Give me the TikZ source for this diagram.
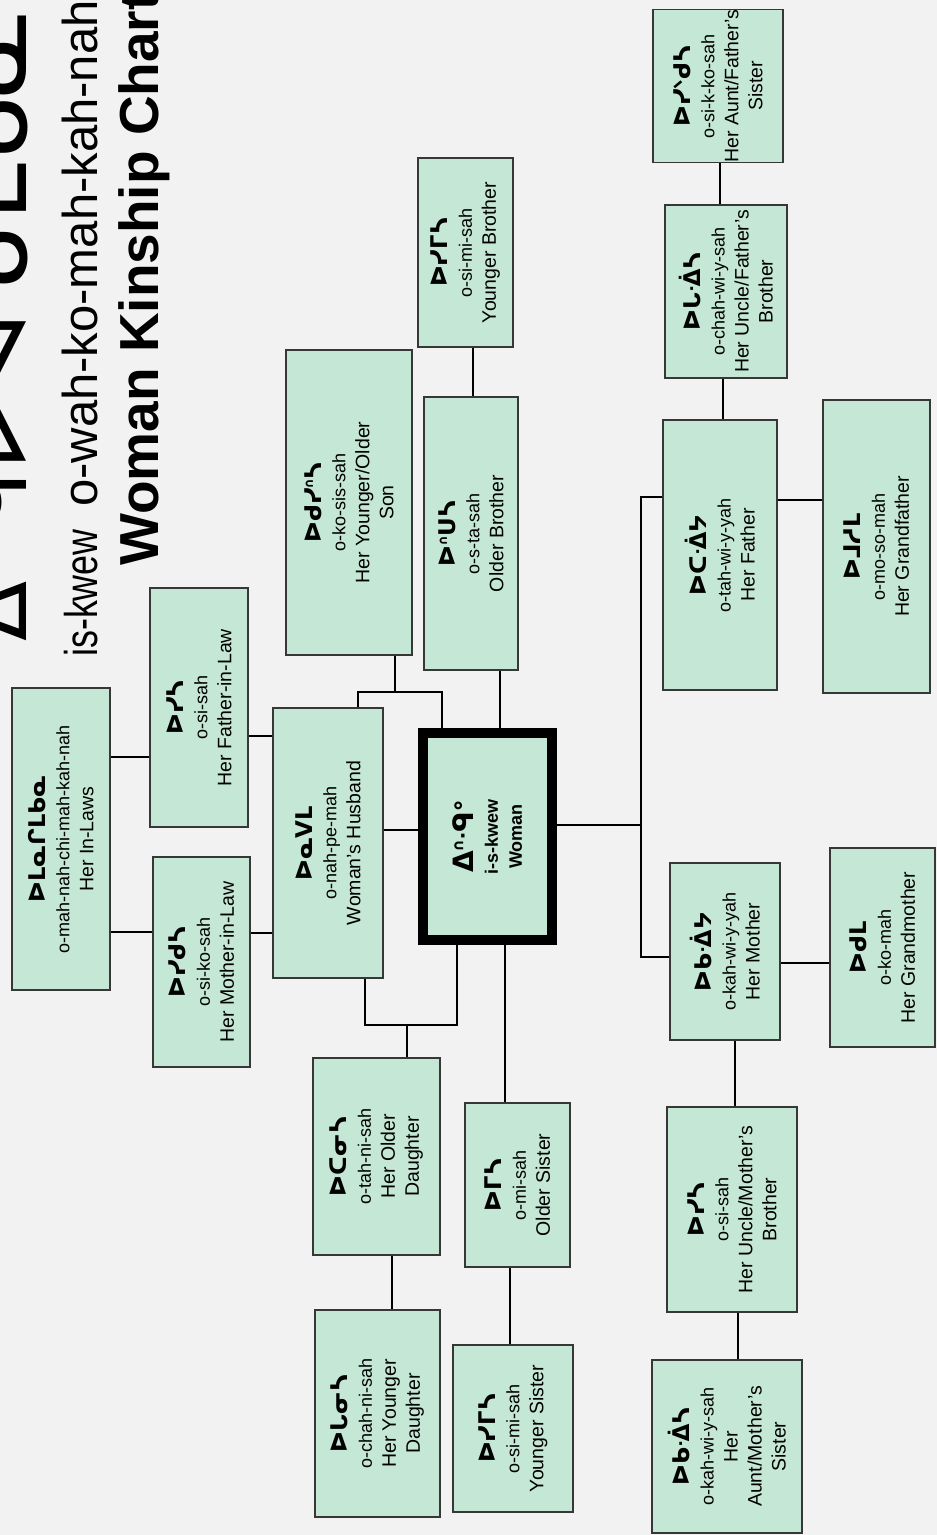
\documentclass[tikz,border=0pt]{standalone}
\usepackage{fontspec}
\setmainfont{Liberation Sans}
\newfontfamily\creefont{DejaVu Sans}
\newfontfamily\narrowfont{Liberation Sans}[FakeStretch=0.78]
\definecolor{boxfill}{RGB}{197,231,213}
\definecolor{boxline}{RGB}{55,55,55}
\definecolor{paper}{RGB}{242,242,242}
\newcommand\sylb[1]{{\creefont\bfseries\fontsize{23}{27}\selectfont #1}}
\newcommand\translit[1]{{\fontsize{18}{23}\selectfont #1}}

\begin{document}
\begin{tikzpicture}[x=1pt,y=1pt,
    kin/.style={rectangle,draw=boxline,line width=1.8pt,fill=boxfill,rotate=90,align=center,inner xsep=0pt,inner ysep=2pt,font=\fontsize{19.5}{24}\selectfont},
    ego/.style={kin,draw=black,line width=10pt,font=\bfseries\fontsize{18}{24}\selectfont},
    link/.style={line width=2.6pt,black}]
    \useasboundingbox (0,0) rectangle (937,-1535);
    \fill[paper] (0,0) rectangle (937,-1535);

    \node[rotate=90,anchor=base west,inner sep=0,font=\creefont\fontsize{88}{90}\selectfont] (titlecree) at (27,-642) {ᐃᐢᑴᐤ};
    \node[rotate=90,anchor=base west,inner sep=0,font=\creefont\fontsize{104}{110}\selectfont] (titlecreeb) at (27,-472) {ᐅᐚᑯᒫᑲᓇ};
    \node[rotate=90,anchor=base west,inner sep=0,font=\narrowfont\fontsize{46}{50}\selectfont] (titlerom) at (97,-657) {is-kwew};
    \node[rotate=90,anchor=base west,inner sep=0,font=\fontsize{49}{50}\selectfont] (titleromb) at (97,-507) {o-wah-ko-mah-kah-nah};
    \node[rotate=90,anchor=base west,inner sep=0,font=\bfseries\fontsize{55}{60}\selectfont] (titleeng) at (158,-566) {Woman Kinship Chart};

    \node[kin,minimum width=302pt,minimum height=98pt] (inlaws) at (61,-839) {\sylb{ᐅᒪᓇᒋᒪᑲᓇ}\\\translit{o-mah-nah-chi-mah-kah-nah}\\Her In-Laws};
    \node[kin,minimum width=239pt,minimum height=98pt] (fatherinlaw) at (199,-707.5) {\sylb{ᐅᓯᓴ}\\\translit{o-si-sah}\\Her Father-in-Law};
    \node[kin,minimum width=210pt,minimum height=97pt] (motherinlaw) at (201.5,-962) {\sylb{ᐅᓯᑯᓴ}\\\translit{o-si-ko-sah}\\Her Mother-in-Law};
    \node[kin,minimum width=270pt,minimum height=110pt] (husband) at (328,-843) {\sylb{ᐅᓇᐯᒪ}\\\translit{o-nah-pe-mah}\\Woman's Husband};
    \node[kin,minimum width=305pt,minimum height=126pt] (son) at (349,-502.5) {\sylb{ᐅᑯᓯᐢᓴ}\\\translit{o-ko-sis-sah}\\Her Younger/Older\\Son};
    \node[kin,minimum width=273pt,minimum height=94pt] (olderbro) at (471,-533.5) {\sylb{ᐅᐢᑌᓴ}\\\translit{o-s-ta-sah}\\Older Brother};
    \node[kin,minimum width=189pt,minimum height=95pt] (youngerbro) at (465.5,-252.5) {\sylb{ᐅᓯᒥᓴ}\\\translit{o-si-mi-sah}\\Younger Brother};
    \node[ego,minimum width=207pt,minimum height=129pt] (woman) at (487.5,-836.5) {{\creefont\bfseries\fontsize{28}{30}\selectfont ᐃᐢᑴᐤ}\\i-s-kwew\\Woman};
    \node[kin,minimum width=197pt,minimum height=127pt] (olderdau) at (376.5,-1156.5) {\sylb{ᐅᑕᓂᓴ}\\\translit{o-tah-ni-sah}\\Her Older\\Daughter};
    \node[kin,minimum width=207pt,minimum height=125pt] (youngerdau) at (377.5,-1413.5) {\sylb{ᐅᒐᓂᓴ}\\\translit{o-chah-ni-sah}\\Her Younger\\Daughter};
    \node[kin,minimum width=164pt,minimum height=105pt] (oldersis) at (517.5,-1185) {\sylb{ᐅᒥᓴ}\\\translit{o-mi-sah}\\Older Sister};
    \node[kin,minimum width=167pt,minimum height=120pt] (youngersis) at (513,-1428.5) {\sylb{ᐅᓯᒥᓴ}\\\translit{o-si-mi-sah}\\Younger Sister};
    \node[kin,minimum width=270pt,minimum height=114pt] (father) at (720,-555) {\sylb{ᐅᑕᐐᔭ}\\\translit{o-tah-wi-y-yah}\\Her Father};
    \node[kin,minimum width=293pt,minimum height=107pt] (grandfather) at (876.5,-546.5) {\sylb{ᐅᒧᓱᒪ}\\\translit{o-mo-so-mah}\\Her Grandfather};
    \node[kin,minimum width=173pt,minimum height=122pt] (unclefa) at (726,-291.5) {\sylb{ᐅᒐᐐᓴ}\\\translit{o-chah-wi-y-sah}\\Her Uncle/Father's\\Brother};
    \node[kin,minimum width=148pt,minimum height=130pt] (auntfa) at (718,-86) {\sylb{ᐅᓯᐠᑯᓴ}\\\translit{o-si-k-ko-sah}\\Her Aunt/Father's\\Sister};
    \node[kin,minimum width=177pt,minimum height=110pt] (mother) at (725,-951.5) {\sylb{ᐅᑲᐐᔭ}\\\translit{o-kah-wi-y-yah}\\Her Mother};
    \node[kin,minimum width=199pt,minimum height=105pt] (grandmother) at (882.5,-947.5) {\sylb{ᐅᑯᒪ}\\\translit{o-ko-mah}\\Her Grandmother};
    \node[kin,minimum width=205pt,minimum height=130pt] (unclemo) at (732,-1209.5) {\sylb{ᐅᓯᓴ}\\\translit{o-si-sah}\\Her Uncle/Mother's\\Brother};
    \node[kin,minimum width=173pt,minimum height=150pt] (auntmo) at (727,-1446.5) {\sylb{ᐅᑲᐐᓴ}\\\translit{o-kah-wi-y-sah}\\Her\\Aunt/Mother's\\Sister};

    \draw[link] (inlaws.south |- 0,-757) -- (fatherinlaw.north |- 0,-757);
    \draw[link] (inlaws.south |- 0,-932) -- (motherinlaw.north |- 0,-932);
    \draw[link] (fatherinlaw.south |- 0,-736) -- (husband.north |- 0,-736);
    \draw[link] (motherinlaw.south |- 0,-933) -- (husband.north |- 0,-933);
    \draw[link] (husband.south |- 0,-830) -- (woman.north |- 0,-830);
    \draw[link] (son.west -| 395,0) -- (395,-692);
    \draw[link] (husband.east -| 358,0) -- (358,-692) -- (442,-692) -- (woman.east -| 442,0);
    \draw[link] (olderbro.west -| 500,0) -- (woman.east -| 500,0);
    \draw[link] (youngerbro.west -| 473,0) -- (olderbro.east -| 473,0);
    \draw[link] (woman.south |- 0,-825) -- (641,-825);
    \draw[link] (father.north |- 0,-497) -| (641,-957) -- (mother.north |- 0,-957);
    \draw[link] (father.south |- 0,-500) -- (grandfather.north |- 0,-500);
    \draw[link] (father.east -| 723,0) -- (unclefa.west -| 723,0);
    \draw[link] (unclefa.east -| 720,0) -- (auntfa.west -| 720,0);
    \draw[link] (mother.south |- 0,-963) -- (grandmother.north |- 0,-963);
    \draw[link] (mother.west -| 735,0) -- (unclemo.east -| 735,0);
    \draw[link] (unclemo.west -| 738,0) -- (auntmo.east -| 738,0);
    \draw[link] (woman.west -| 457,0) |- (365,-1025) -- (husband.west -| 365,0);
    \draw[link] (407,-1025) -- (olderdau.east -| 407,0);
    \draw[link] (woman.west -| 505,0) -- (oldersis.east -| 505,0);
    \draw[link] (olderdau.west -| 392,0) -- (youngerdau.east -| 392,0);
    \draw[link] (oldersis.west -| 510,0) -- (youngersis.east -| 510,0);
\end{tikzpicture}
\end{document}
